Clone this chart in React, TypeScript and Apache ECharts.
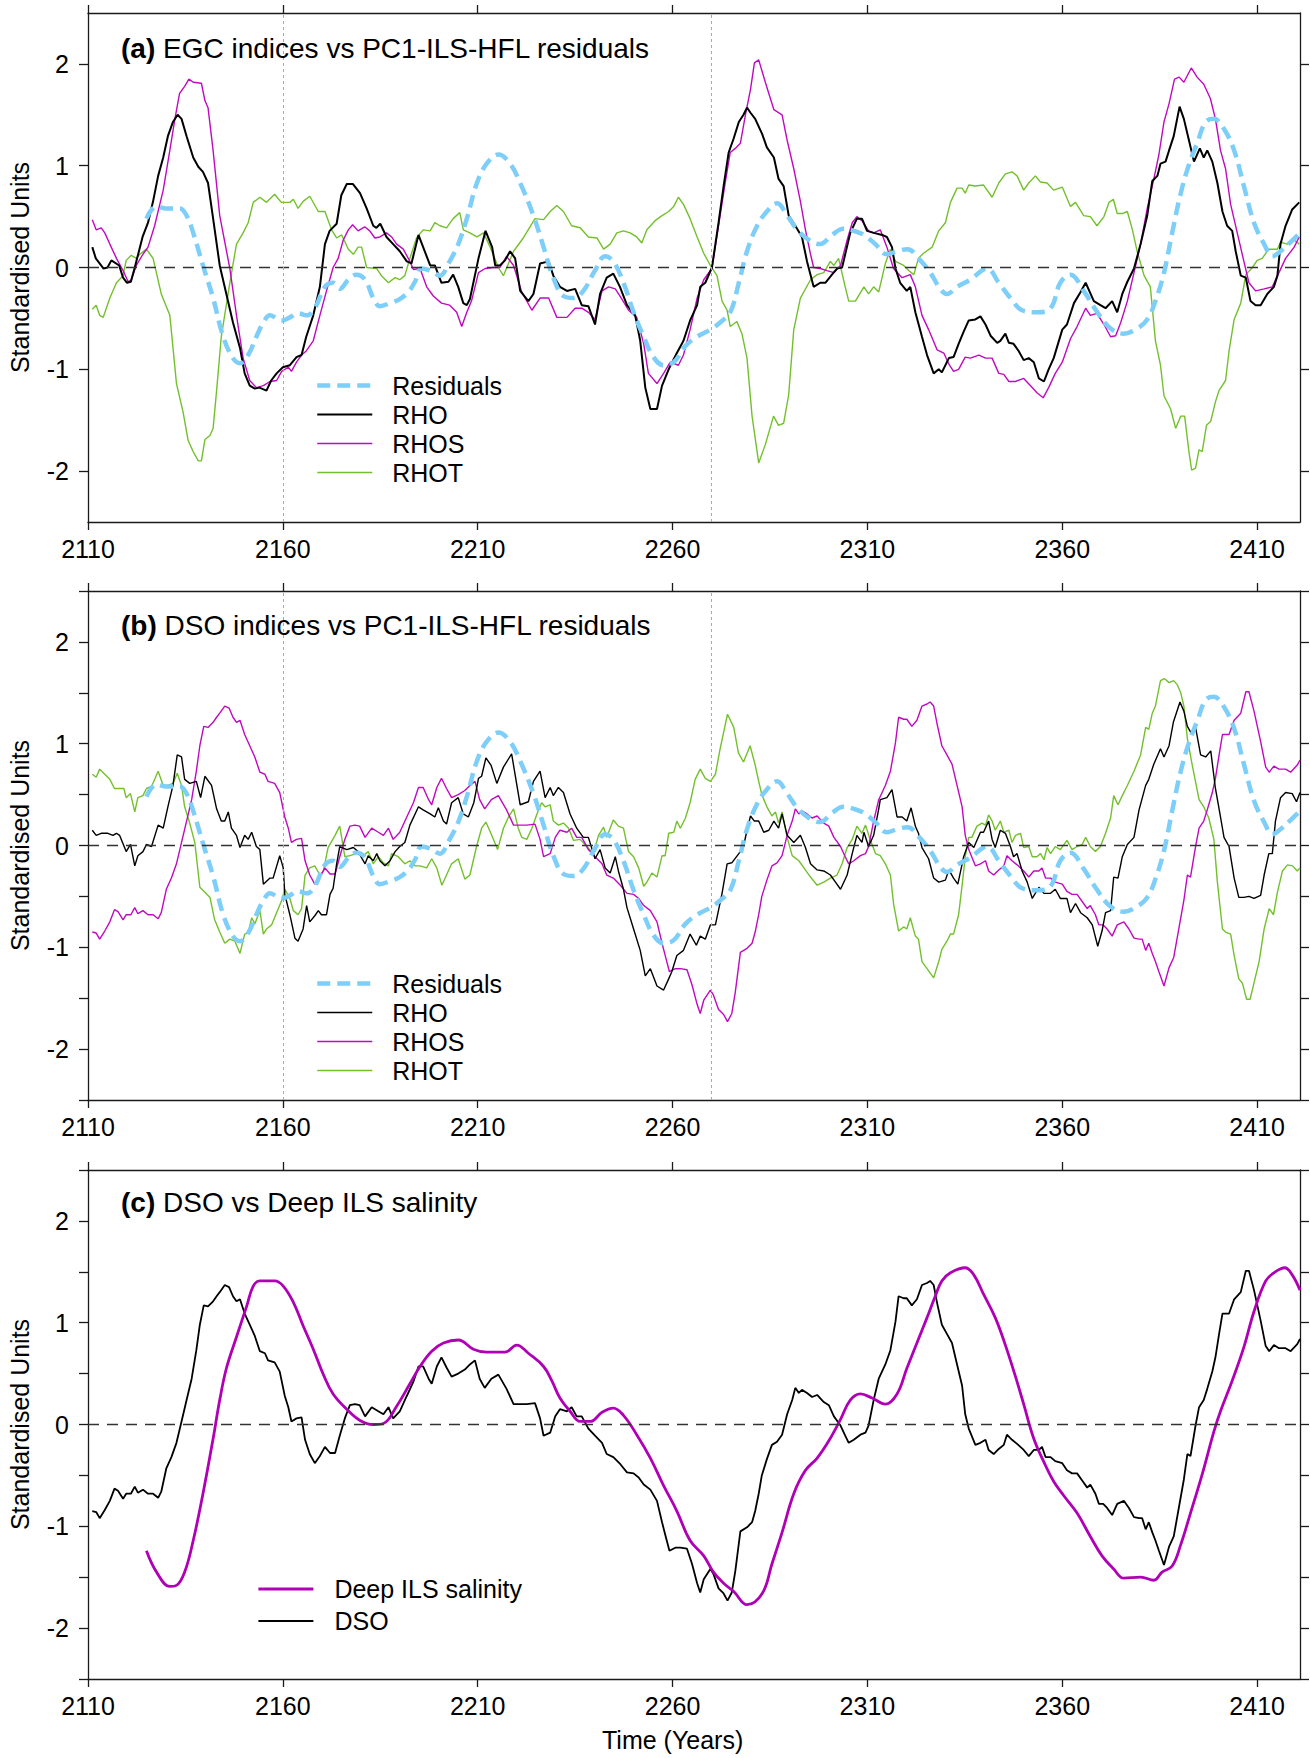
import React, { useEffect, useRef } from 'react';
import * as echarts from 'echarts';

// ---------- axis ticks / labels ----------
const xTicks = [2110, 2160, 2210, 2260, 2310, 2360, 2410];
const yTicksA = [-2, -1, 0, 1, 2];
const yTicksBC = [-2.5, -2, -1.5, -1, -0.5, 0, 0.5, 1, 1.5, 2, 2.5];
const yLabels = [-2, -1, 0, 1, 2];
const refYears = [2160, 2270];
const panelTitles = [
  ['(a)', 'EGC indices vs PC1-ILS-HFL residuals'],
  ['(b)', 'DSO indices vs PC1-ILS-HFL residuals'],
  ['(c)', 'DSO vs Deep ILS salinity'],
];

// ---------- data: [year, standardised value] ----------
const residuals: [number, number][] = [
  [2125,0.48],[2127.6,0.60],[2130.1,0.58],[2133.5,0.58],[2135.3,0.51],[2137,0.34],[2139.5,0.02],[2142.1,-0.30],[2144.7,-0.68],[2147.2,-0.89],[2149,-0.94],[2151.1,-0.86],[2153.2,-0.68],[2155,-0.54],[2156.7,-0.47],[2159.7,-0.52],[2161.8,-0.49],[2163.9,-0.45],[2166.1,-0.47],[2168.2,-0.40],[2170.8,-0.19],[2172.9,-0.15],[2174.6,-0.21],[2176.8,-0.12],[2178.9,-0.07],[2181.1,-0.12],[2183.2,-0.30],[2184.9,-0.38],[2187.5,-0.35],[2190,-0.31],[2192.2,-0.24],[2193.9,-0.14],[2195.6,-0.01],[2197.8,-0.03],[2200.3,-0.08],[2202.5,0.04],[2205,0.23],[2207.2,0.48],[2209.8,0.83],[2212.3,1.02],[2215.3,1.11],[2218.3,1.02],[2220.9,0.83],[2224.3,0.51],[2226.9,0.20],[2229.4,-0.10],[2232,-0.28],[2234.6,-0.30],[2237.1,-0.23],[2240.1,-0.03],[2242.7,0.11],[2244.8,0.06],[2247.4,-0.15],[2250,-0.44],[2252.6,-0.68],[2255.1,-0.88],[2257.7,-0.96],[2260.3,-0.93],[2263.3,-0.77],[2266.3,-0.68],[2269.7,-0.61],[2272.2,-0.54],[2274.8,-0.44],[2277,-0.15],[2279.1,0.16],[2281.7,0.41],[2284.2,0.55],[2286.8,0.63],[2289.4,0.51],[2292,0.37],[2295,0.27],[2297.9,0.23],[2300.9,0.32],[2303.9,0.38],[2306.5,0.36],[2309.1,0.32],[2312,0.23],[2315,0.13],[2317.6,0.16],[2320.3,0.18],[2323.1,0.09],[2326.1,-0.05],[2328.7,-0.21],[2330.4,-0.26],[2333,-0.19],[2336.4,-0.12],[2340.7,-0.01],[2343.7,-0.15],[2346.7,-0.30],[2349.7,-0.42],[2353.5,-0.44],[2357,-0.40],[2359.5,-0.15],[2362.1,-0.07],[2365.5,-0.23],[2369,-0.44],[2372.4,-0.60],[2375.8,-0.65],[2379.2,-0.60],[2381.8,-0.51],[2383.9,-0.33],[2386.1,-0.05],[2388.2,0.34],[2390.4,0.73],[2392.5,1.01],[2394.6,1.22],[2396.8,1.43],[2398.9,1.46],[2401.5,1.36],[2404.1,1.15],[2406.6,0.80],[2409.2,0.44],[2411.8,0.23],[2413.9,0.11],[2416,0.16],[2418.6,0.25],[2421,0.34]
];

const rhoEGC: [number, number][] = [
  [2111.1,0.20],[2112,0.09],[2114,-0.01],[2115,0.0],[2116,0.07],[2118,0.02],[2119,-0.10],[2120,-0.15],[2121,-0.14],[2122,0.0],[2124,0.30],[2125.4,0.44],[2126.7,0.65],[2128,0.90],[2129.3,1.08],[2130.5,1.29],[2131.8,1.43],[2133,1.50],[2134,1.46],[2135.3,1.29],[2137,1.08],[2138.3,0.99],[2139.5,0.94],[2140.8,0.83],[2142,0.51],[2143.8,0.02],[2145.5,-0.26],[2147.2,-0.54],[2149,-0.79],[2150.2,-1.04],[2151.5,-1.16],[2152.8,-1.19],[2154,-1.18],[2155.8,-1.21],[2157,-1.11],[2158.4,-1.04],[2160,-0.98],[2161.8,-0.96],[2163.5,-0.88],[2164.8,-0.86],[2166,-0.68],[2167.8,-0.47],[2169.5,-0.19],[2170.8,0.23],[2172,0.36],[2173.8,0.43],[2175,0.71],[2176.4,0.82],[2178,0.82],[2179.8,0.73],[2181.5,0.58],[2183.2,0.41],[2184,0.39],[2185,0.43],[2186.6,0.30],[2188.3,0.23],[2190,0.16],[2191.8,0.06],[2193,0.04],[2194.8,0.32],[2196,0.20],[2197.8,0.02],[2199,0.02],[2200.7,-0.15],[2202.5,-0.14],[2203.7,-0.07],[2205,-0.19],[2206.3,-0.35],[2207.2,-0.37],[2208,-0.31],[2210.2,0.09],[2212,0.36],[2213.7,0.20],[2214.5,0.02],[2215.7,0.02],[2217,0.07],[2218.3,0.16],[2219.6,0.09],[2220.9,-0.23],[2223,-0.33],[2224.3,-0.26],[2226,0.04],[2228.2,0.06],[2229.4,-0.08],[2231.1,-0.19],[2232.9,-0.23],[2235,-0.21],[2236.7,-0.37],[2238.4,-0.38],[2240.1,-0.56],[2241.4,-0.26],[2243.1,-0.10],[2244.8,-0.06],[2246.5,-0.19],[2248.3,-0.37],[2250.4,-0.47],[2251.7,-0.72],[2253,-1.18],[2254.3,-1.39],[2256,-1.39],[2257.3,-1.16],[2259,-1.0],[2261.1,-0.84],[2262.8,-0.72],[2264.5,-0.52],[2266.3,-0.37],[2267.1,-0.19],[2268.4,-0.15],[2270.1,0.0],[2271.8,0.44],[2273.1,0.80],[2274.4,1.13],[2275.7,1.27],[2277,1.43],[2278.2,1.50],[2279.1,1.57],[2280,1.52],[2281.2,1.46],[2283,1.31],[2284.2,1.18],[2286,1.08],[2287.2,0.87],[2288.5,0.80],[2289.8,0.51],[2291.5,0.41],[2293.2,0.30],[2294.5,0.06],[2296.2,-0.19],[2297.9,-0.15],[2299.2,-0.15],[2300.9,-0.07],[2302.2,-0.01],[2303.5,0.0],[2305.6,0.34],[2307.3,0.48],[2308.6,0.48],[2309.9,0.36],[2311.6,0.34],[2313.8,0.32],[2315,0.30],[2316.3,0.20],[2317.2,-0.01],[2318.4,-0.15],[2320.1,-0.23],[2321,-0.19],[2322.3,-0.44],[2324,-0.68],[2325.3,-0.86],[2327,-1.04],[2328.3,-1.0],[2329.1,-1.03],[2330.9,-0.89],[2332.1,-0.88],[2333.4,-0.75],[2334.7,-0.63],[2336,-0.52],[2337.7,-0.51],[2339,-0.48],[2340.3,-0.56],[2341.6,-0.67],[2343.3,-0.74],[2344.1,-0.72],[2345.4,-0.65],[2346.3,-0.74],[2347.5,-0.75],[2348.8,-0.82],[2350.1,-0.91],[2351.4,-0.89],[2352.7,-0.93],[2354,-1.09],[2355.3,-1.12],[2356.5,-1.0],[2357.8,-0.89],[2360,-0.61],[2361.2,-0.56],[2363,-0.35],[2364.7,-0.24],[2366,-0.15],[2368.1,-0.33],[2369.8,-0.37],[2371.1,-0.40],[2372.8,-0.33],[2374.1,-0.44],[2375.4,-0.26],[2376.7,-0.14],[2378.4,-0.01],[2380.1,0.23],[2381.8,0.51],[2383.1,0.85],[2384.4,0.90],[2385.2,1.02],[2386.5,1.04],[2387.4,1.15],[2388.6,1.29],[2390.1,1.58],[2391.2,1.46],[2392.5,1.25],[2393.8,1.04],[2395.3,1.17],[2396.3,1.08],[2397.2,1.15],[2398.5,1.04],[2399.8,0.83],[2401.1,0.55],[2402.3,0.41],[2403.6,0.36],[2404.5,0.16],[2405.8,-0.08],[2407.1,-0.10],[2408.3,-0.33],[2409.6,-0.37],[2410.9,-0.37],[2412.6,-0.26],[2414.3,-0.19],[2415.2,-0.08],[2416,0.23],[2417.3,0.41],[2419,0.57],[2420.8,0.64]
];

const rhosEGC: [number, number][] = [
  [2111.1,0.47],[2112.1,0.37],[2113.4,0.39],[2114.3,0.34],[2115.6,0.23],[2117.3,0.09],[2119,-0.03],[2120.3,-0.14],[2121.1,-0.12],[2122.4,0.02],[2124.1,0.13],[2125.4,0.20],[2127.1,0.41],[2129.3,0.76],[2131,1.15],[2132.3,1.46],[2133.5,1.71],[2134.8,1.78],[2135.9,1.85],[2137,1.82],[2139.1,1.81],[2140,1.64],[2140.8,1.57],[2142.1,1.15],[2143.8,0.51],[2146.4,-0.01],[2148.1,-0.47],[2149.8,-0.89],[2151.5,-1.11],[2153.2,-1.18],[2155,-1.16],[2156.7,-1.12],[2158.4,-1.11],[2159.7,-1.02],[2161.4,-0.98],[2162.2,-1.02],[2163.5,-0.93],[2164.8,-0.86],[2166,-0.82],[2167.8,-0.72],[2169.5,-0.47],[2171.2,-0.23],[2172.9,0.0],[2174.2,0.09],[2175.5,0.27],[2176.8,0.37],[2177.9,0.42],[2179.3,0.36],[2181,0.40],[2182.3,0.36],[2183.6,0.29],[2184.9,0.30],[2186.6,0.34],[2187.9,0.30],[2189.2,0.23],[2190.9,0.18],[2192.6,0.06],[2193.5,-0.02],[2195.2,-0.01],[2196.9,-0.19],[2198.6,-0.28],[2200.7,-0.35],[2202.8,-0.37],[2204.6,-0.44],[2205.9,-0.58],[2207.2,-0.44],[2208.4,-0.33],[2210.2,-0.05],[2211.9,-0.01],[2214,0.0],[2215.7,0.0],[2217.4,0.11],[2219.2,0.02],[2221.3,-0.24],[2223.9,-0.42],[2226,-0.30],[2228.2,-0.30],[2230.3,-0.49],[2232.9,-0.49],[2235,-0.40],[2236.7,-0.40],[2238.4,-0.44],[2240.1,-0.51],[2241.9,-0.23],[2243.6,-0.19],[2245.3,-0.21],[2247,-0.31],[2248.7,-0.42],[2250.8,-0.49],[2252.6,-0.75],[2253.8,-1.04],[2256,-1.14],[2257.7,-1.04],[2259.4,-0.93],[2261.5,-0.96],[2262.8,-0.86],[2264.5,-0.61],[2266.3,-0.30],[2268,-0.12],[2270.1,-0.01],[2271.8,0.41],[2273.5,0.83],[2274.8,1.13],[2276.1,1.17],[2277.4,1.22],[2278.7,1.50],[2280,1.75],[2281,2.01],[2282.1,2.04],[2283.8,1.82],[2286,1.55],[2288.1,1.50],[2289.4,1.25],[2291.1,0.97],[2292.8,0.65],[2294.1,0.37],[2295.4,0.13],[2296.2,0.0],[2297.9,-0.01],[2299.6,-0.03],[2301.4,-0.05],[2303.1,0.02],[2304.8,0.27],[2306.1,0.44],[2307.3,0.50],[2308.6,0.46],[2310.3,0.36],[2311.6,0.34],[2313.3,0.37],[2315,0.20],[2316.7,-0.01],[2318.9,-0.10],[2321,-0.07],[2322.3,-0.19],[2324,-0.47],[2325.7,-0.61],[2327.9,-0.81],[2329.6,-0.84],[2330.9,-0.95],[2332.1,-1.02],[2333.4,-1.0],[2335.1,-0.88],[2336.4,-0.89],[2338.6,-0.86],[2340.3,-0.89],[2342,-0.89],[2343.7,-1.04],[2345,-1.05],[2346.3,-1.12],[2348,-1.12],[2350.1,-1.09],[2351.8,-1.16],[2353.5,-1.23],[2355.1,-1.28],[2356.5,-1.18],[2358.2,-1.04],[2360,-0.93],[2362.1,-0.70],[2363.8,-0.58],[2366,-0.40],[2367.2,-0.47],[2368.9,-0.45],[2370.7,-0.56],[2372.4,-0.68],[2373.7,-0.67],[2375,-0.54],[2376.7,-0.33],[2378.4,-0.05],[2380.1,0.23],[2381.8,0.58],[2383.5,0.87],[2384.8,1.11],[2386.1,1.43],[2387.4,1.61],[2388.8,1.85],[2390,1.87],[2391.2,1.82],[2393.1,1.96],[2394.6,1.87],[2396.3,1.80],[2398,1.66],[2399.3,1.46],[2400.6,1.15],[2401.9,0.97],[2403.2,0.62],[2404.9,0.34],[2406.6,0.06],[2407.9,-0.15],[2409.6,-0.23],[2411.8,-0.21],[2413.9,-0.19],[2415.6,-0.05],[2417.3,0.09],[2419.5,0.20],[2420.8,0.30]
];

const rhotEGC: [number, number][] = [
  [2111.1,-0.41],[2112.1,-0.37],[2113,-0.47],[2113.9,-0.49],[2115.6,-0.30],[2117.3,-0.15],[2119,-0.08],[2119.8,0.07],[2121.1,0.12],[2122.4,0.09],[2123.3,0.13],[2125,0.18],[2126.7,0.09],[2128.8,-0.26],[2131,-0.47],[2132.7,-1.14],[2134.4,-1.42],[2135.7,-1.70],[2137,-1.81],[2138.3,-1.90],[2139.1,-1.90],[2140,-1.69],[2141.3,-1.65],[2142.1,-1.58],[2143,-1.21],[2144.2,-0.68],[2146.4,-0.15],[2148.1,0.23],[2149.8,0.34],[2151.1,0.44],[2152.4,0.64],[2154.1,0.69],[2155.8,0.64],[2157.9,0.72],[2159.6,0.64],[2161.8,0.64],[2162.7,0.67],[2163.9,0.58],[2165.2,0.65],[2166.9,0.70],[2169.1,0.55],[2170.8,0.55],[2172.5,0.37],[2173.8,0.29],[2175.1,0.32],[2176.8,0.18],[2178.1,0.13],[2179.3,0.20],[2180.2,0.20],[2181.5,0.0],[2184.1,-0.01],[2185.3,-0.08],[2187.1,-0.15],[2188.8,-0.10],[2190,-0.12],[2191.3,-0.08],[2192.6,0.09],[2194.3,0.29],[2196,0.37],[2197.8,0.36],[2199,0.44],[2200.3,0.41],[2202,0.39],[2203.7,0.48],[2205.4,0.54],[2206.3,0.37],[2208,0.34],[2209.8,0.30],[2211.5,0.34],[2213.2,0.20],[2215.3,0.0],[2216.6,-0.08],[2219.2,0.16],[2221.7,0.29],[2224.7,0.48],[2226.9,0.47],[2228.6,0.55],[2230.3,0.61],[2232,0.55],[2234.1,0.41],[2236.3,0.39],[2238.4,0.30],[2240.6,0.29],[2242.3,0.18],[2244,0.23],[2245.7,0.34],[2247.4,0.36],[2249.1,0.34],[2250.8,0.30],[2252.1,0.24],[2253.4,0.37],[2255.5,0.46],[2257.3,0.51],[2259,0.55],[2260.3,0.60],[2261.5,0.69],[2262.8,0.62],[2264.5,0.48],[2266.3,0.30],[2268,0.14],[2269.7,0.02],[2271.4,-0.08],[2272.7,-0.33],[2274,-0.42],[2274.8,-0.58],[2276.5,-0.53],[2277.8,-0.65],[2279.1,-0.89],[2280.4,-1.46],[2282.1,-1.92],[2283.8,-1.74],[2285.9,-1.46],[2287.2,-1.55],[2288.5,-1.53],[2289.8,-1.25],[2291.1,-0.61],[2292.8,-0.30],[2295.4,-0.12],[2297.1,-0.07],[2298.8,-0.05],[2300.5,0.06],[2301.4,0.02],[2302.6,0.09],[2304.3,-0.19],[2305.2,-0.33],[2306.9,-0.33],[2309.1,-0.19],[2310.3,-0.26],[2311.6,-0.19],[2312.9,-0.24],[2314.6,0.04],[2315.9,0.18],[2317.2,0.06],[2319.3,0.02],[2320.6,-0.03],[2321.9,-0.07],[2323.1,0.09],[2324.4,0.14],[2326.6,0.20],[2328.3,0.36],[2330,0.44],[2331.3,0.64],[2333,0.78],[2334.3,0.78],[2335.1,0.73],[2336,0.81],[2337.7,0.80],[2339.8,0.81],[2342,0.69],[2343.7,0.83],[2345.4,0.92],[2347.1,0.94],[2348.4,0.90],[2350.1,0.76],[2351.4,0.83],[2353.1,0.90],[2354.4,0.84],[2356.1,0.83],[2357.8,0.76],[2360,0.79],[2362.1,0.60],[2363.4,0.64],[2365.5,0.51],[2367.2,0.50],[2368.9,0.41],[2370.7,0.50],[2372,0.64],[2373.1,0.67],[2374.1,0.53],[2375.4,0.53],[2376.7,0.55],[2378,0.37],[2379.2,0.16],[2381,-0.08],[2382.6,-0.19],[2383.9,-0.72],[2385.2,-0.96],[2386.1,-1.26],[2387.8,-1.39],[2389.1,-1.58],[2390.4,-1.46],[2391.4,-1.46],[2392.5,-1.81],[2393.2,-1.99],[2394.2,-1.97],[2395.1,-1.79],[2395.9,-1.81],[2397,-1.55],[2398.1,-1.51],[2399.3,-1.32],[2400.2,-1.21],[2401.9,-1.11],[2402.8,-0.82],[2404.1,-0.51],[2405.8,-0.35],[2407.1,-0.07],[2408.8,0.0],[2410,0.07],[2411.3,0.09],[2413,0.18],[2415.2,0.18],[2416,0.25],[2417.7,0.23],[2419.5,0.27],[2420.8,0.23]
];

const rhoDSO: [number, number][] = [
  [2111.1,0.15],[2112.1,0.10],[2113.4,0.12],[2115.1,0.12],[2116.4,0.10],[2117.3,0.12],[2118.1,0.10],[2119.8,-0.06],[2120.9,0.01],[2122,-0.20],[2122.8,-0.10],[2124.1,-0.06],[2125,0.01],[2126.3,-0.01],[2128,0.20],[2129.3,0.17],[2130.5,0.38],[2131.8,0.59],[2132.9,0.89],[2134,0.87],[2134.8,0.65],[2136.1,0.61],[2137.8,0.63],[2138.9,0.47],[2140,0.68],[2141.7,0.59],[2143,0.36],[2144.2,0.24],[2145.1,0.24],[2146,0.33],[2146.8,0.17],[2148.1,0.10],[2149,-0.02],[2150.2,0.10],[2151.1,0.06],[2152,0.13],[2153.2,-0.01],[2154.1,-0.04],[2155,-0.38],[2156.7,-0.32],[2157.5,-0.32],[2159.2,-0.10],[2160.1,-0.22],[2160.5,-0.48],[2161.8,-0.68],[2163.1,-0.91],[2163.9,-0.94],[2165.2,-0.82],[2166.1,-0.59],[2166.9,-0.75],[2168.2,-0.69],[2169.1,-0.64],[2169.9,-0.68],[2171.2,-0.68],[2172.1,-0.48],[2172.9,-0.42],[2173.8,-0.18],[2174.6,-0.01],[2176.4,-0.04],[2178.1,-0.02],[2179.3,-0.06],[2181.1,-0.18],[2181.9,-0.10],[2183.2,-0.15],[2184.1,-0.08],[2184.9,-0.15],[2186.2,-0.20],[2187.5,-0.15],[2188.8,-0.06],[2190,-0.01],[2191.3,0.03],[2192.6,0.20],[2194.8,0.38],[2196,0.35],[2197.8,0.31],[2199,0.28],[2199.9,0.37],[2201.2,0.24],[2202,0.21],[2203.3,0.42],[2205,0.47],[2206.3,0.31],[2207.6,0.28],[2209,0.42],[2210.2,0.66],[2211,0.68],[2212.1,0.86],[2213.4,0.79],[2214.9,0.61],[2216.6,0.77],[2218.7,0.90],[2220.9,0.40],[2223,0.43],[2224.3,0.63],[2226,0.73],[2227.3,0.47],[2228.6,0.57],[2229.4,0.49],[2230.7,0.57],[2232,0.52],[2233.7,0.31],[2235.4,0.17],[2237.1,0.08],[2238.4,0.08],[2240.1,-0.13],[2241.4,-0.04],[2242.7,-0.22],[2244,-0.27],[2245.3,-0.11],[2246.1,-0.25],[2247.4,-0.43],[2248.3,-0.61],[2250,-0.82],[2251.7,-1.03],[2253,-1.28],[2254.3,-1.21],[2256,-1.38],[2257.7,-1.42],[2259,-1.31],[2259.8,-1.24],[2261.1,-1.08],[2262.8,-1.03],[2264.5,-0.87],[2266.1,-0.98],[2267.1,-0.89],[2268.4,-0.92],[2269.7,-0.78],[2271,-0.78],[2272.7,-0.47],[2274,-0.18],[2275.2,-0.17],[2277,-0.08],[2278.2,-0.01],[2279.1,0.15],[2280,0.29],[2281,0.24],[2282.1,0.24],[2283.4,0.13],[2284.7,0.15],[2286,0.24],[2287.2,0.17],[2288.1,0.31],[2289.4,0.10],[2291.1,0.03],[2292.8,0.10],[2294.1,-0.02],[2295.4,-0.18],[2297.1,-0.24],[2298.8,-0.25],[2300.5,-0.29],[2301.8,-0.36],[2303.1,-0.43],[2304.8,-0.29],[2306.1,-0.08],[2307.3,0.10],[2308.6,0.03],[2309.1,0.13],[2310.3,-0.01],[2311.6,0.10],[2312.9,0.36],[2313.3,0.45],[2315,0.47],[2316.3,0.55],[2317.6,0.28],[2318.9,0.28],[2320.1,0.24],[2321.2,0.37],[2322.3,0.19],[2323.1,0.12],[2324,-0.02],[2325.7,-0.13],[2327,-0.32],[2328.3,-0.36],[2330,-0.34],[2330.9,-0.24],[2332.1,-0.32],[2333.2,-0.38],[2334.7,-0.11],[2336,0.03],[2337.3,-0.02],[2339,0.13],[2339.8,0.13],[2341.1,0.24],[2342,0.06],[2342.8,-0.02],[2344.1,0.15],[2345.4,0.12],[2346.7,-0.01],[2347.5,-0.11],[2348.4,-0.08],[2349.7,-0.25],[2351,-0.36],[2352.3,-0.52],[2354,-0.41],[2355.3,-0.47],[2357,-0.47],[2358.2,-0.43],[2359.5,-0.52],[2361.2,-0.52],[2362.1,-0.66],[2363.4,-0.57],[2364.7,-0.66],[2366.4,-0.71],[2367.7,-0.78],[2369.1,-0.99],[2370.2,-0.84],[2371.1,-0.66],[2372.4,-0.64],[2373.2,-0.31],[2374.3,-0.32],[2375.4,-0.11],[2376.7,0.01],[2378.4,0.08],[2379.7,0.35],[2381.4,0.59],[2382.2,0.65],[2383.5,0.80],[2385.2,0.95],[2386.1,0.87],[2387.4,0.98],[2388.5,1.21],[2390.2,1.41],[2391.2,1.32],[2392.1,1.17],[2393.3,1.09],[2394.2,1.16],[2395.5,0.89],[2396.8,0.87],[2398.1,0.93],[2399.3,0.56],[2400.6,0.28],[2401.5,0.08],[2402.8,-0.01],[2404.1,-0.32],[2405.3,-0.51],[2406.6,-0.51],[2407.9,-0.50],[2409.2,-0.52],[2410.9,-0.49],[2411.8,-0.29],[2413,-0.08],[2413.9,-0.08],[2414.7,0.24],[2416,0.47],[2417.3,0.52],[2419,0.51],[2420.1,0.43],[2421,0.52]
];

// RHOS of the DSO indices, also the DSO curve of panel (c)
const rhosDSO: [number, number][] = [
  [2111.1,-0.85],[2112.1,-0.86],[2113,-0.92],[2114.3,-0.84],[2115.6,-0.75],[2116.8,-0.63],[2117.7,-0.65],[2119,-0.73],[2119.8,-0.68],[2121,-0.68],[2122,-0.61],[2122.8,-0.67],[2124.1,-0.64],[2125.4,-0.68],[2126.7,-0.68],[2128,-0.72],[2128.8,-0.66],[2130.1,-0.43],[2131.4,-0.32],[2132.7,-0.18],[2134,0.03],[2135.3,0.24],[2136.6,0.45],[2137.8,0.73],[2138.7,0.98],[2139.7,1.17],[2140.8,1.16],[2142.1,1.21],[2143,1.26],[2143.8,1.30],[2145.1,1.37],[2146.2,1.35],[2147.2,1.26],[2148.1,1.21],[2149,1.23],[2150.2,1.09],[2151.5,0.98],[2152.8,0.87],[2154.1,0.72],[2155.4,0.70],[2156.2,0.63],[2157.9,0.61],[2159.2,0.52],[2160.5,0.28],[2161.4,0.17],[2162.2,0.03],[2163.5,0.06],[2164.8,0.07],[2165.7,-0.15],[2166.9,-0.29],[2168.2,-0.38],[2169.5,-0.31],[2170.8,-0.22],[2172.1,-0.28],[2173.4,-0.28],[2174.6,-0.11],[2175.9,0.06],[2177.2,0.19],[2178.5,0.20],[2179.7,0.19],[2181.1,0.08],[2182.8,0.17],[2184.5,0.13],[2185.8,0.10],[2187.1,0.17],[2188.3,0.06],[2190,0.13],[2191.8,0.28],[2193.5,0.42],[2194.8,0.57],[2196,0.57],[2197.4,0.45],[2198.2,0.40],[2199.5,0.57],[2200.7,0.66],[2202,0.56],[2203.3,0.47],[2205,0.50],[2206.7,0.54],[2208,0.59],[2209.3,0.63],[2210.5,0.45],[2211.8,0.36],[2213.5,0.45],[2215.3,0.49],[2217.4,0.35],[2219.2,0.20],[2220.9,0.20],[2222.6,0.20],[2224.7,0.21],[2226,0.06],[2226.9,-0.11],[2228.6,-0.08],[2229.9,0.08],[2231.1,0.15],[2232.9,0.13],[2234.1,0.17],[2235.4,0.08],[2236.7,0.08],[2238.4,-0.04],[2240.1,-0.11],[2241.9,-0.18],[2243.1,-0.29],[2244.8,-0.32],[2246.6,-0.39],[2248.3,-0.47],[2250,-0.48],[2251.3,-0.52],[2252.6,-0.59],[2254.3,-0.64],[2256,-0.75],[2257.3,-0.96],[2258.1,-1.08],[2259.2,-1.24],[2260.7,-1.21],[2262,-1.21],[2263.7,-1.22],[2265,-1.37],[2266.3,-1.56],[2267.1,-1.65],[2268,-1.52],[2269.7,-1.42],[2270.5,-1.47],[2271.8,-1.61],[2273.1,-1.66],[2274.1,-1.73],[2275.2,-1.65],[2276.1,-1.44],[2277.4,-1.05],[2279.1,-1.01],[2280.4,-0.96],[2281.2,-0.85],[2282.1,-0.68],[2282.9,-0.50],[2284.2,-0.34],[2285.5,-0.20],[2286.8,-0.17],[2288.1,-0.10],[2289.4,0.10],[2290.7,0.24],[2291.5,0.36],[2292.4,0.31],[2293.2,0.34],[2294.5,0.31],[2295.8,0.27],[2297.1,0.29],[2298.8,0.22],[2300.1,0.19],[2301.4,0.08],[2303.1,-0.01],[2304.3,-0.11],[2305.2,-0.18],[2306.5,-0.15],[2308.2,-0.10],[2309.5,-0.08],[2310.3,-0.01],[2311.6,0.24],[2312.9,0.45],[2314.6,0.59],[2315.9,0.73],[2317.2,1.01],[2318,1.26],[2319.3,1.24],[2320.1,1.24],[2321.4,1.17],[2322.7,1.23],[2324,1.37],[2325.3,1.39],[2326.1,1.41],[2327,1.37],[2327.9,1.19],[2329.1,0.98],[2330.4,0.89],[2331.7,0.80],[2333,0.59],[2334.3,0.38],[2335.1,0.10],[2336,-0.04],[2337.7,-0.20],[2339,-0.18],[2340.3,-0.15],[2341.1,-0.25],[2342.4,-0.29],[2343.7,-0.24],[2345,-0.20],[2345.8,-0.10],[2347.1,-0.15],[2348.4,-0.19],[2350.1,-0.25],[2351.4,-0.31],[2352.7,-0.25],[2354,-0.25],[2354.8,-0.22],[2355.7,-0.32],[2357,-0.32],[2358.2,-0.36],[2360,-0.38],[2361.2,-0.45],[2362.5,-0.48],[2363.8,-0.48],[2365.1,-0.55],[2366.4,-0.62],[2367.2,-0.59],[2368.5,-0.68],[2369.4,-0.78],[2370.5,-0.78],[2371.5,-0.82],[2372.8,-0.89],[2374.1,-0.78],[2375.8,-0.75],[2377.1,-0.82],[2378.4,-0.91],[2379.7,-0.92],[2380.5,-0.92],[2381.4,-1.03],[2382.2,-0.96],[2383.1,-1.06],[2383.9,-1.14],[2384.8,-1.24],[2386.1,-1.38],[2387.4,-1.20],[2388.6,-1.10],[2389.9,-0.82],[2391.2,-0.54],[2392.1,-0.29],[2392.9,-0.31],[2394.2,-0.01],[2395.1,0.17],[2396.3,0.24],[2397.2,0.35],[2398.5,0.52],[2399.3,0.66],[2400.2,0.88],[2401.1,1.09],[2402.8,1.09],[2404.1,1.23],[2405.8,1.30],[2407.1,1.51],[2407.9,1.51],[2409.2,1.32],[2410.9,1.02],[2412.2,0.77],[2413.1,0.72],[2414.3,0.78],[2415.6,0.75],[2417.3,0.75],[2418.6,0.72],[2420.3,0.79],[2421,0.84]
];

const rhotDSO: [number, number][] = [
  [2111.1,0.70],[2112.1,0.67],[2113,0.75],[2114.3,0.70],[2115.6,0.65],[2116.8,0.56],[2118.1,0.56],[2119.2,0.56],[2119.8,0.47],[2120.9,0.51],[2122,0.33],[2122.8,0.47],[2124.1,0.49],[2125,0.56],[2126.3,0.58],[2128,0.73],[2129.3,0.59],[2130.5,0.59],[2131.8,0.61],[2132.9,0.71],[2134,0.59],[2134.8,0.38],[2136.1,0.22],[2137.4,0.03],[2138.7,-0.41],[2140,-0.46],[2141.3,-0.51],[2142.5,-0.73],[2143.8,-0.85],[2145.1,-0.96],[2146.4,-0.92],[2147.7,-0.94],[2149,-1.06],[2150.2,-0.87],[2151.1,-0.86],[2152,-0.71],[2152.8,-0.77],[2154.1,-0.64],[2155,-0.87],[2155.8,-0.82],[2157.1,-0.78],[2158.4,-0.66],[2159.7,-0.54],[2160.5,-0.43],[2161.8,-0.52],[2162.7,-0.64],[2163.9,-0.68],[2164.8,-0.62],[2165.7,-0.29],[2166.9,-0.22],[2168.2,-0.20],[2169.5,-0.29],[2170.4,-0.25],[2171.6,-0.02],[2173.4,0.10],[2174.6,0.19],[2175.9,-0.11],[2177.2,-0.10],[2178.9,-0.08],[2180.6,-0.10],[2181.9,-0.06],[2183.2,-0.18],[2184.5,-0.11],[2185.8,-0.17],[2187.1,-0.20],[2187.9,-0.08],[2189.6,-0.11],[2191.3,-0.18],[2192.6,-0.15],[2193.9,-0.20],[2195.2,-0.20],[2196.9,-0.22],[2198.2,-0.13],[2199.5,-0.22],[2200.8,-0.39],[2202,-0.29],[2203.3,-0.18],[2205,-0.13],[2206.7,-0.33],[2208,-0.29],[2209.7,-0.01],[2211,0.17],[2212.1,0.23],[2213.6,0.10],[2215.1,-0.04],[2216.6,0.17],[2217.9,0.28],[2219.2,0.36],[2220.4,0.17],[2221.3,0.08],[2222.6,0.06],[2223.9,0.17],[2225.2,0.31],[2226.4,0.42],[2227.3,0.38],[2228.6,0.40],[2229.4,0.24],[2230.7,0.20],[2232,0.22],[2233.3,0.17],[2234.6,0.05],[2236.3,0.06],[2238,-0.01],[2239.7,-0.08],[2241,0.10],[2242.3,0.18],[2243.1,0.08],[2244.8,0.25],[2246.1,0.19],[2247.4,0.17],[2248.7,-0.06],[2250,-0.11],[2251.3,-0.22],[2252.6,-0.40],[2253.4,-0.36],[2254.7,-0.27],[2256,-0.31],[2257.3,-0.10],[2258.1,-0.10],[2259,0.12],[2260.3,0.13],[2261.1,0.24],[2262,0.17],[2263.3,0.27],[2264.5,0.42],[2265.8,0.65],[2267.1,0.75],[2268.4,0.66],[2269.7,0.63],[2271,0.70],[2272.2,0.95],[2274.1,1.29],[2275.7,1.16],[2276.9,0.91],[2278.2,0.82],[2279.9,0.98],[2281.2,0.79],[2282.1,0.63],[2282.9,0.50],[2284.2,0.38],[2285.5,0.29],[2286.4,0.33],[2287.2,0.22],[2288.1,0.33],[2289.4,0.08],[2290.7,-0.10],[2292.4,-0.15],[2293.7,-0.22],[2295.4,-0.31],[2297.1,-0.39],[2298.8,-0.36],[2300.5,-0.32],[2302.2,-0.29],[2303.5,-0.18],[2304.8,-0.02],[2306.1,0.06],[2307.3,0.19],[2308.6,0.12],[2309.5,0.20],[2310.8,0.05],[2312.1,-0.08],[2313.3,-0.10],[2314.6,-0.18],[2315.9,-0.29],[2316.7,-0.57],[2318,-0.84],[2319.3,-0.80],[2320.1,-0.82],[2321,-0.71],[2322.3,-0.89],[2323.1,-0.92],[2324,-1.14],[2325.3,-1.21],[2327,-1.30],[2328.3,-1.14],[2329.1,-1.02],[2330.4,-0.94],[2331.3,-0.87],[2332.1,-0.87],[2333.4,-0.68],[2334.3,-0.39],[2335.1,-0.11],[2336,0.08],[2336.8,0.08],[2338.1,0.19],[2339.4,0.22],[2340.3,0.20],[2341.1,0.30],[2342,0.24],[2342.8,0.15],[2344.1,0.24],[2345,0.13],[2346.3,0.15],[2347.1,0.03],[2348,0.10],[2349.3,0.12],[2350.1,-0.02],[2351.4,-0.01],[2352.3,-0.11],[2353.5,-0.11],[2354.4,-0.08],[2355.3,-0.14],[2356.1,-0.02],[2357,-0.08],[2358.2,-0.01],[2359.5,-0.04],[2361.2,0.05],[2362.5,-0.04],[2363.8,-0.01],[2365.1,0.01],[2366,0.08],[2367.2,-0.01],[2368.5,-0.06],[2369.8,-0.01],[2371.1,0.12],[2372.4,0.27],[2373.2,0.49],[2374.3,0.40],[2375.4,0.49],[2376.7,0.59],[2378.4,0.73],[2380.1,0.89],[2381.4,1.16],[2382.2,1.14],[2383.1,1.30],[2383.9,1.37],[2385.2,1.62],[2386.2,1.64],[2387.4,1.60],[2388.6,1.62],[2389.5,1.58],[2390.4,1.50],[2391.2,1.37],[2392.1,1.05],[2393.3,0.80],[2395.1,0.45],[2396.3,0.38],[2397.6,0.27],[2398.9,0.06],[2399.8,-0.36],[2401.1,-0.82],[2401.9,-0.85],[2403.2,-0.87],[2404.1,-1.08],[2405.3,-1.31],[2406.2,-1.35],[2407.3,-1.51],[2408.2,-1.51],[2409.2,-1.35],[2410.5,-1.14],[2411.8,-0.82],[2413.1,-0.62],[2414.2,-0.68],[2415.2,-0.46],[2416.5,-0.25],[2417.8,-0.19],[2419.1,-0.20],[2420.3,-0.25],[2421,-0.22]
];

const deepSalinity: [number, number][] = [
  [2125,-1.24],[2127.6,-1.45],[2131,-1.59],[2132.7,-1.58],[2134.8,-1.45],[2137,-1.14],[2139.5,-0.68],[2142.1,-0.14],[2143.8,0.24],[2145.5,0.55],[2148.1,0.86],[2150.7,1.16],[2152.4,1.36],[2154.1,1.41],[2157.9,1.41],[2160.1,1.36],[2162.7,1.20],[2165.2,0.97],[2167.8,0.74],[2170.4,0.49],[2172.9,0.30],[2176.4,0.15],[2179.8,0.04],[2183.2,0.0],[2185.8,0.01],[2189.2,0.18],[2192.6,0.40],[2195.2,0.57],[2198.2,0.72],[2201.2,0.80],[2205,0.83],[2208.9,0.74],[2212.3,0.71],[2217,0.71],[2220,0.78],[2223,0.70],[2226.9,0.57],[2229,0.43],[2231.1,0.26],[2233.7,0.13],[2236.3,0.03],[2238.9,0.03],[2241.9,0.12],[2244.8,0.16],[2247.4,0.09],[2250.8,-0.10],[2254.3,-0.33],[2257.7,-0.60],[2261.1,-0.85],[2264.5,-1.14],[2268,-1.29],[2270.5,-1.45],[2273.1,-1.56],[2275.7,-1.64],[2279.1,-1.77],[2283,-1.66],[2285.5,-1.37],[2288.1,-1.06],[2291.1,-0.68],[2294.1,-0.45],[2297.1,-0.33],[2300.1,-0.16],[2303.1,0.05],[2305.6,0.24],[2308.2,0.30],[2311.2,0.26],[2314.6,0.20],[2317.6,0.30],[2320.1,0.55],[2322.7,0.80],[2325.3,1.05],[2327.4,1.26],[2329.1,1.41],[2331.3,1.49],[2335.1,1.54],[2337.3,1.47],[2339.8,1.28],[2342.8,1.05],[2345.4,0.78],[2348,0.47],[2350.1,0.20],[2352.7,-0.14],[2355.3,-0.37],[2357.8,-0.56],[2360.4,-0.70],[2363.8,-0.87],[2367.2,-1.10],[2370.2,-1.29],[2373.2,-1.42],[2375.8,-1.51],[2380.1,-1.50],[2383.5,-1.53],[2385.6,-1.45],[2388.2,-1.39],[2390.4,-1.18],[2392.9,-0.87],[2395.9,-0.49],[2398.9,-0.07],[2400.6,0.13],[2403.6,0.43],[2406.6,0.76],[2409.2,1.11],[2412.2,1.41],[2414.3,1.49],[2417.1,1.54],[2419,1.47],[2421,1.32]
];

// ---------- styling ----------
const FONT = "'Liberation Sans', Arial, Helvetica, sans-serif";
const C_RES = '#7DCEF8';
const C_RHO = '#000000';
const C_RHOS = '#C00AC0';
const C_RHOT = '#74C02C';
const C_SAL = '#B000B6';
const FRAME = { color: '#1a1a1a', width: 1.3 };

export default function App() {
  const ref = useRef<HTMLDivElement>(null);

  useEffect(() => {
    if (!ref.current) return;
    const chart = echarts.init(ref.current, undefined, { renderer: 'svg' });

    const gridTops = [13, 591, 1170];
    const grids = gridTops.map((t) => ({ left: 88, right: 10, top: t, height: 509, outerBoundsMode: 'none' }));

    const xAxes: any[] = [];
    const yAxes: any[] = [];
    gridTops.forEach((_, i) => {
      const yt = i === 0 ? yTicksA : yTicksBC;
      const base = {
        type: 'value', gridIndex: i, min: 2110, max: 2421, interval: 50,
        splitLine: { show: false },
        axisLine: { show: true, onZero: false, lineStyle: FRAME },
        axisTick: { show: true, inside: false, length: 8, customValues: xTicks, lineStyle: FRAME },
      };
      xAxes.push({
        ...base, position: 'bottom',
        axisLabel: { show: true, customValues: xTicks, margin: 14, fontSize: 25, color: '#000', fontFamily: FONT, formatter: (v: number) => String(v) },
      });
      xAxes.push({ ...base, position: 'top', axisLabel: { show: false } });
      const ybase = {
        type: 'value', gridIndex: i, min: -2.5, max: 2.5, interval: 0.5,
        splitLine: { show: false },
        axisLine: { show: true, onZero: false, lineStyle: FRAME },
        axisTick: { show: true, inside: false, length: 9, customValues: yt, lineStyle: FRAME },
      };
      yAxes.push({
        ...ybase, position: 'left',
        axisLabel: {
          show: true, customValues: yLabels, margin: 19, fontSize: 25, color: '#000', fontFamily: FONT,
          formatter: (v: number) => (Number.isInteger(v) && Math.abs(v) <= 2 ? String(v) : ''),
        },
        name: 'Standardised Units', nameLocation: 'middle', nameRotate: 90, nameGap: 56,
        nameTextStyle: { fontSize: 25, color: '#000', fontFamily: FONT },
      });
      yAxes.push({ ...ybase, position: 'right', axisLabel: { show: false } });
    });

    const line = (name: string, data: [number, number][], g: number, color: string, width: number, extra: any = {}) => ({
      type: 'line', name, data, xAxisIndex: 2 * g, yAxisIndex: 2 * g,
      showSymbol: false, symbol: 'none', color, silent: true,
      lineStyle: { color, width, ...(extra.lineStyle || {}) },
      emphasis: { disabled: true }, z: 2,
      ...Object.fromEntries(Object.entries(extra).filter(([k]) => k !== 'lineStyle')),
    });

    const refSeries = (g: number, withVerticals: boolean) => ({
      type: 'line', name: 'ref' + g, data: [], xAxisIndex: 2 * g, yAxisIndex: 2 * g, z: 1, silent: true,
      markLine: {
        silent: true, symbol: ['none', 'none'], label: { show: false }, animation: false,
        data: [
          { yAxis: 0, lineStyle: { color: '#333', type: [11, 8], width: 1.3 } },
          ...(withVerticals ? refYears.map((y) => ({ xAxis: y, lineStyle: { color: '#aaa', type: [3, 3], width: 1 } })) : []),
        ],
      },
    });

    const resStyle = { lineStyle: { type: [13, 7] }, smooth: 0.4 };

    const series = [
      refSeries(0, true),
      line('RHOT', rhotEGC, 0, C_RHOT, 1.4),
      line('RHOS', rhosEGC, 0, C_RHOS, 1.4),
      line('RHO', rhoEGC, 0, C_RHO, 2),
      line('Residuals', residuals, 0, C_RES, 4.5, resStyle),
      refSeries(1, true),
      line('RHOT ', rhotDSO, 1, C_RHOT, 1.4),
      line('RHOS ', rhosDSO, 1, C_RHOS, 1.4),
      line('RHO ', rhoDSO, 1, C_RHO, 1.4),
      line('Residuals ', residuals, 1, C_RES, 4.5, resStyle),
      refSeries(2, false),
      line('DSO', rhosDSO, 2, C_RHO, 1.8),
      line('Deep ILS salinity', deepSalinity, 2, C_SAL, 2.8, { smooth: 0.4 }),
    ];

    const legendBase = {
      orient: 'vertical', itemWidth: 55, itemHeight: 14, itemGap: 0, padding: 0, selectedMode: false,
      itemStyle: { opacity: 0 },
      lineStyle: { width: 'inherit' },
    };
    const legend = [
      { ...legendBase, left: 315, top: 371, data: ['Residuals', 'RHO', 'RHOS', 'RHOT'],
        textStyle: { fontSize: 25, lineHeight: 29, color: '#000', fontFamily: FONT, padding: [0, 0, 0, 15] } },
      { ...legendBase, left: 315, top: 969, data: ['Residuals ', 'RHO ', 'RHOS ', 'RHOT '],
        formatter: (n: string) => n.trim(),
        textStyle: { fontSize: 25, lineHeight: 29, color: '#000', fontFamily: FONT, padding: [0, 0, 0, 15] } },
      { ...legendBase, left: 257, top: 1573, data: ['Deep ILS salinity', 'DSO'],
        textStyle: { fontSize: 25, lineHeight: 32, color: '#000', fontFamily: FONT, padding: [0, 0, 0, 16] } },
    ];

    const titleTops = [33, 610, 1187];
    const title = panelTitles.map(([tag, txt], i) => ({
      text: `{b|${tag}} ${txt}`, left: 121, top: titleTops[i], padding: 0,
      textStyle: {
        fontSize: 28, fontWeight: 'normal', color: '#000', fontFamily: FONT, lineHeight: 31,
        rich: { b: { fontSize: 28, fontWeight: 'bold', color: '#000', fontFamily: FONT, lineHeight: 31 } },
      },
    }));

    chart.setOption({
      animation: false,
      backgroundColor: '#fff',
      textStyle: { fontFamily: FONT },
      title,
      legend,
      grid: grids,
      xAxis: xAxes,
      yAxis: yAxes,
      series,
      graphic: [
        {
          type: 'text', left: 674 - 72, top: 1727, silent: true,
          style: { text: 'Time (Years)', fontSize: 25, fill: '#000', fontFamily: FONT },
        },
      ],
    });

    return () => chart.dispose();
  }, []);

  return <div ref={ref} style={{ position: 'absolute', left: 0, top: 0, width: 1310, height: 1758, background: '#fff' }} />;
}
